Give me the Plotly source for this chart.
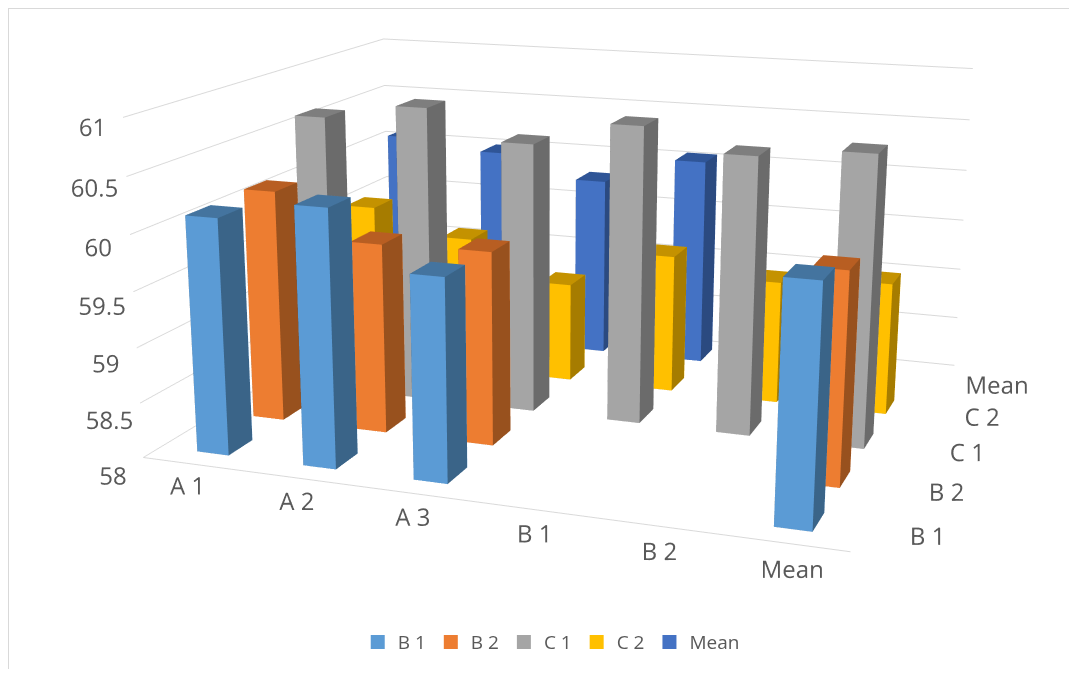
import plotly.graph_objects as go

categories = ["A 1", "A 2", "A 3", "B 1", "B 2", "Mean"]
series_names = ["B 1", "B 2", "C 1", "C 2", "Mean"]
b1_values = [60.13, 60.3, 59.8, None, None, 60.05]
b2_values = [60.15, 59.75, 59.77, None, None, 59.88]
c1_values = [60.65, 60.8, 60.53, 60.76, 60.56, 60.65]
c2_values = [59.57, 59.33, 58.96, 59.33, 59.17, 59.25]
mean_values = [60.1, 60.0, 59.78, 60.05, None, None]
all_values = [b1_values, b2_values, c1_values, c2_values, mean_values]
z_ticks = [58, 58.5, 59, 59.5, 60, 60.5, 61]
z_labels = ["58", "58.5", "59", "59.5", "60", "60.5", "61"]

front = ["#5B9BD5", "#ED7D31", "#A5A5A5", "#FFC000", "#4472C4"]
side = ["#3A6488", "#98511E", "#6B6B6B", "#A67C00", "#2B4A80"]
top = ["#44749F", "#B85E22", "#7E7E7E", "#C49200", "#2F5597"]

BASE = 58
BW, BD = 0.30, 0.42
FONT = "Open Sans"
TXT = "#595959"
LINE = "#D9D9D9"

fig = go.Figure()
for s, vals in enumerate(all_values):
    X, Y, Z, I, J, K, C = [], [], [], [], [], [], []
    for c, v in enumerate(vals):
        if v is None:
            continue
        x0, x1 = c + .5 - BW / 2, c + .5 + BW / 2
        y0, y1 = s + .5 - BD / 2, s + .5 + BD / 2
        n = len(X)
        X += [x0, x1, x1, x0, x0, x1, x1, x0]
        Y += [y0, y0, y1, y1, y0, y0, y1, y1]
        Z += [BASE] * 4 + [v] * 4
        faces = [
            ((0, 1, 5), front[s]), ((0, 5, 4), front[s]),
            ((1, 2, 6), side[s]), ((1, 6, 5), side[s]),
            ((4, 5, 6), top[s]), ((4, 6, 7), top[s]),
            ((3, 0, 4), side[s]), ((3, 4, 7), side[s]),
            ((2, 3, 7), front[s]), ((2, 7, 6), front[s]),
            ((0, 2, 1), side[s]), ((0, 3, 2), side[s]),
        ]
        for (a, b, d), col in faces:
            I.append(n + a); J.append(n + b); K.append(n + d); C.append(col)
    fig.add_trace(go.Mesh3d(
        x=X, y=Y, z=Z, i=I, j=J, k=K, facecolor=C, flatshading=True,
        lighting=dict(ambient=1, diffuse=0, specular=0, roughness=1, fresnel=0),
        name=series_names[s], showlegend=False, hoverinfo="name",
    ))
    fig.add_trace(go.Scatter(x=[None], y=[None], name=series_names[s], mode="markers",
                             marker=dict(color=front[s], symbol="square", size=14),
                             showlegend=True, xaxis="x", yaxis="y"))

axis_common = dict(showbackground=False, zeroline=False, showspikes=False,
                   ticks="", title=dict(text=""), tickangle=0,
                   tickfont=dict(family=FONT, size=17, color=TXT))
fig.update_layout(
    width=1061, height=661, autosize=False,
    margin=dict(l=0, r=0, t=0, b=0),
    paper_bgcolor="white", plot_bgcolor="white",
    xaxis=dict(visible=False, domain=[0, 0.01]),
    yaxis=dict(visible=False, domain=[0, 0.01]),
    showlegend=True,
    legend=dict(orientation="h", x=0.512, xanchor="center", y=0.012, yanchor="bottom",
                font=dict(family=FONT, size=19, color=TXT), itemclick=False,
                bgcolor="rgba(0,0,0,0)", traceorder="normal"),
    scene=dict(
        domain=dict(x=[0, 1], y=[0, 1]),
        aspectmode="manual", aspectratio=dict(x=1.04, y=0.87, z=0.50),
        camera=dict(eye=dict(x=0.950, y=-2.771, z=0.717),
                    center=dict(x=-0.046, y=-0.054, z=-0.126),
                    up=dict(x=0, y=0, z=1)),
        xaxis=dict(range=[0, 6], tickmode="array",
                   tickvals=[c + .67 for c in range(len(categories))], ticktext=categories,
                   showgrid=False, showline=True, linecolor=LINE, linewidth=2, **axis_common),
        yaxis=dict(range=[0, 5], tickmode="array",
                   tickvals=[s + .5 for s in range(len(series_names))], ticktext=series_names,
                   showgrid=False, showline=False, **axis_common),
        zaxis=dict(range=[58, 61], tickmode="array", tickvals=z_ticks, ticktext=z_labels,
                   showgrid=True, gridcolor=LINE, gridwidth=2, showline=False, **axis_common),
    ),
    shapes=[
        dict(type="line", xref="paper", yref="paper", x0=0, x1=1, y0=1, y1=1,
             line=dict(color=LINE, width=2)),
        dict(type="line", xref="paper", yref="paper", x0=0, x1=0, y0=0, y1=1,
             line=dict(color=LINE, width=2)),
    ],
)

post = """
(function(){
  var gd = document.getElementById('{plot_id}');
  var n = 0;
  function narrowLens(){
    var s = gd._fullLayout && gd._fullLayout.scene && gd._fullLayout.scene._scene;
    if(s && s.glplot){
      s.glplot.fovy = 0.3336;
      s.glplot.redraw();
    }
    if(n++ < 40) setTimeout(narrowLens, 50);
  }
  narrowLens();
})();
"""
fig.write_html("out.html", post_script=post, config=dict(displayModeBar=False))
